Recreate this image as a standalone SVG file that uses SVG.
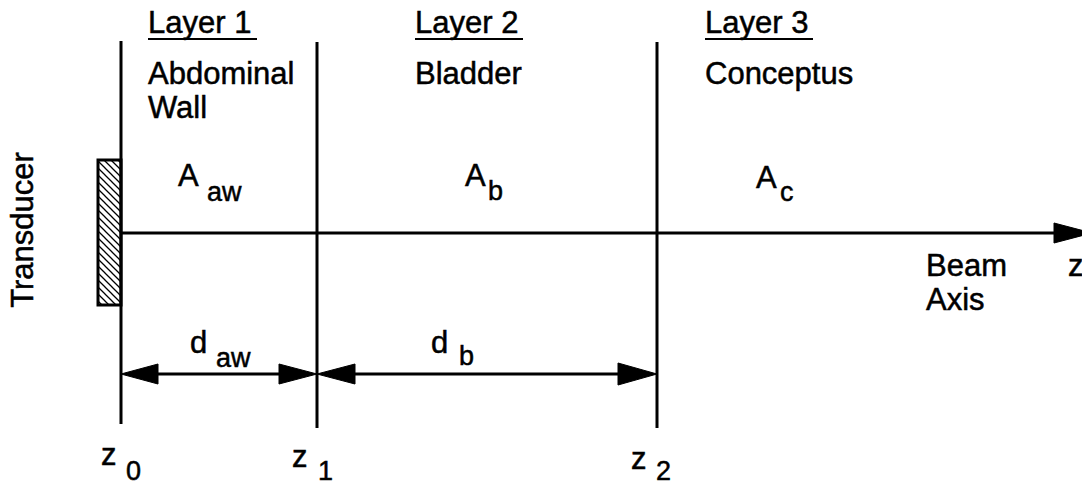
<svg xmlns="http://www.w3.org/2000/svg" width="1082" height="488" viewBox="0 0 1082 488">
<style>
text{font-family:"Liberation Sans",Arial,Helvetica,sans-serif;fill:#000;stroke:#000;stroke-width:0.5}
.t{font-size:31px}
.s{font-size:27px}
.ln{stroke:#000;stroke-width:3;fill:none}
.ul{stroke:#000;stroke-width:2}
.ah{fill:#000;stroke:#000;stroke-width:1}
</style>
<defs>
<pattern id="hatch" patternUnits="userSpaceOnUse" width="7" height="7">
<path d="M-1,-1 L8,8 M-1,6 L1,8 M6,-1 L8,1" stroke="#000" stroke-width="1.3"/>
</pattern>
</defs>
<rect width="1082" height="488" fill="#fff"/>

<g id="transducer">
<rect x="98" y="160" width="23" height="145" fill="url(#hatch)" stroke="#000" stroke-width="3"/>
<text class="t" transform="translate(33,230) rotate(-90)" text-anchor="middle">Transducer</text>
</g>

<g id="layer1">
<text class="t" x="148" y="33">Layer 1</text>
<line class="ul" x1="148" y1="39" x2="257" y2="39"/>
<text class="t" x="148" y="84">Abdominal</text>
<text class="t" x="148" y="118">Wall</text>
<text class="t" x="178" y="186">A</text>
<text class="s" x="207" y="201">aw</text>
</g>

<g id="layer2">
<text class="t" x="415" y="33">Layer 2</text>
<line class="ul" x1="415" y1="39" x2="523" y2="39"/>
<text class="t" x="415" y="84">Bladder</text>
<text class="t" x="465" y="186">A</text>
<text class="s" x="488" y="200">b</text>
</g>

<g id="layer3">
<text class="t" x="705" y="33">Layer 3</text>
<line class="ul" x1="705" y1="39" x2="813" y2="39"/>
<text class="t" x="705" y="84">Conceptus</text>
<text class="t" x="756" y="188">A</text>
<text class="s" x="780" y="201">c</text>
</g>

<g id="beam-axis-label">
<text class="t" x="926" y="276">Beam</text>
<text class="t" x="926" y="310">Axis</text>
<text class="t" x="1068" y="276">z</text>
</g>

<g id="labels-z">
<text class="t" x="101" y="465">z</text>
<text class="s" x="126" y="480">0</text>
<text class="t" x="292" y="467">z</text>
<text class="s" x="318" y="480">1</text>
<text class="t" x="631" y="469">z</text>
<text class="s" x="656" y="480">2</text>
</g>

<g id="dims">
<text class="t" x="190" y="353">d</text>
<text class="s" x="216" y="367">aw</text>
<text class="t" x="431" y="353">d</text>
<text class="s" x="459" y="365">b</text>
</g>

<g id="connectors">
<line class="ln" x1="121" y1="41" x2="121" y2="424"/>
<line class="ln" x1="317" y1="42" x2="317" y2="428"/>
<line class="ln" x1="657" y1="42" x2="657" y2="428"/>
<line class="ln" x1="121" y1="233" x2="1060" y2="233"/>
<polygon class="ah" points="1054,223 1092,233 1054,243"/>
<line class="ln" x1="150" y1="374" x2="290" y2="374"/>
<polygon class="ah" points="121,374 158,364 158,384"/>
<polygon class="ah" points="317,374 279,364 279,384"/>
<line class="ln" x1="345" y1="374" x2="630" y2="374"/>
<polygon class="ah" points="317,374 355,364 355,384"/>
<polygon class="ah" points="657,374 618,363 618,385"/>
</g>
</svg>
